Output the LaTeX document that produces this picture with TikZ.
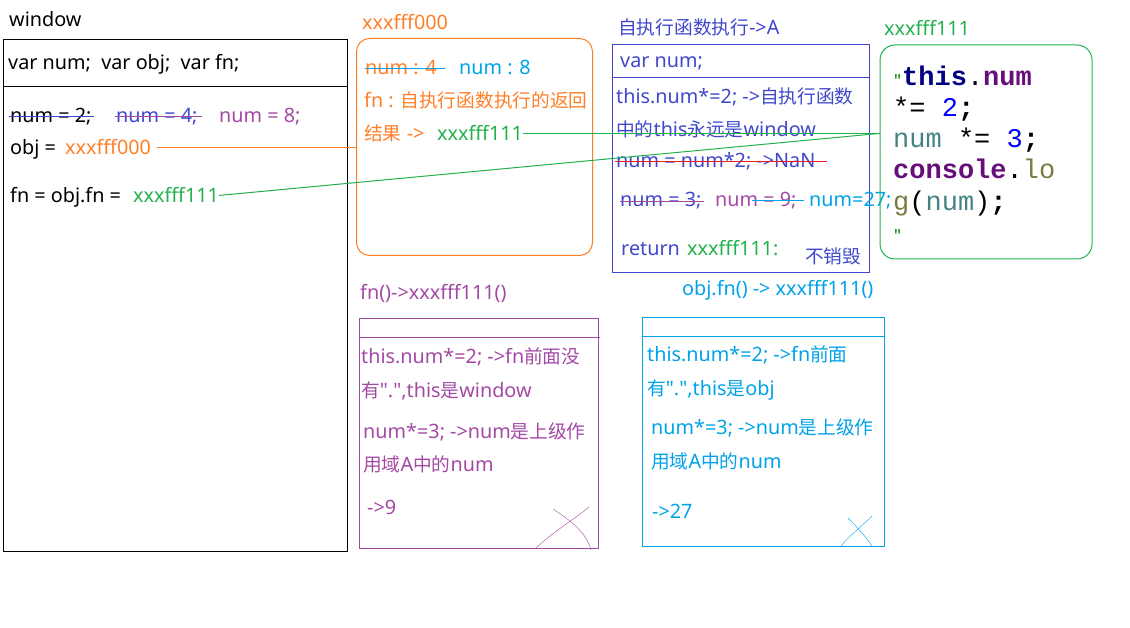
\documentclass[tikz,border=0pt]{standalone}
\usepackage{fontspec}
\setmainfont{Noto Sans}[Ligatures=TeXOff]
\newfontfamily\cjk{Noto Sans CJK SC}[Ligatures=TeXOff]
\setmonofont{Liberation Mono}
\usetikzlibrary{calc,positioning}

\definecolor{indigo}{HTML}{3F48CC}
\definecolor{ppurple}{HTML}{A349A4}
\definecolor{porange}{HTML}{FF7F27}
\definecolor{pgreen}{HTML}{22B14C}
\definecolor{pcyan}{HTML}{00A2E8}
\definecolor{pred}{HTML}{ED1C24}
\definecolor{kwthis}{HTML}{000080}
\definecolor{kwfield}{HTML}{660E7A}
\definecolor{kwlocal}{HTML}{458383}
\definecolor{kwcall}{HTML}{7A7A43}
\definecolor{kwnum}{HTML}{0000FF}
\definecolor{kwstr}{HTML}{008000}

\newcommand{\zh}[1]{{\cjk\fontsize{18.7}{22}\selectfont #1}}

\begin{document}
\begin{tikzpicture}[x=1pt,y=-1pt,
  txt/.style={anchor=base west,inner sep=0pt,font=\fontsize{19.8}{22}\selectfont},
  code/.style={anchor=base west,inner sep=0pt,font=\fontsize{27}{31}\ttfamily},
  frame/.style={draw,line width=1pt,anchor=north west,inner sep=0pt},
  strike/.style={line width=1pt}]

\useasboundingbox (0,0) rectangle (1130,628);

\def\qmark{{\fontsize{15}{15}\selectfont\textcolor{kwstr}{"}}}

% window
\node[txt] (wtitle) at (9,27) {window};
\node[frame,minimum width=344,minimum height=512] (winbox) at (3,39) {};
\draw[line width=1pt] (winbox.west |- 0,87) -- (winbox.east |- 0,87);
\node[txt] (wvar) at (8,70) {var num;~ var obj;~ var fn;};
\node[txt] (wtwo) at (10,123) {num = 2;};
\node[txt,indigo] (wfour) at (116,123) {num = 4;};
\node[txt,ppurple] (weight) at (219,123) {num = 8;};
\draw[strike,indigo] (9,117) -- (94,117);
\draw[strike,ppurple] (115,117) -- (202,117);
\node[txt] (wobj) at (10,155) {obj =};
\node[txt,porange] (wobjaddr) at (65,155) {xxxfff000};
\node[txt] (wfn) at (10,203) {fn = obj.fn =};
\node[txt,pgreen] (wfnaddr) at (133,203) {xxxfff111};

% xxxfff000
\node[txt,porange] (otitle) at (362,30) {xxxfff000};
\node[frame,draw=porange,rounded corners=13pt,minimum width=236,minimum height=217] (obox) at (356,38) {};
\node[txt,porange] (ofour) at (365,75) {num : 4};
\node[txt,pcyan] (oeight) at (459,75) {num : 8};
\draw[strike,pcyan] (365,68.5) -- (445,68.5);
\node[txt,porange] (ofn) at (364,108) {fn : \zh{自执行函数执行的返回}};
\node[txt,porange] (oret) at (364,141) {\zh{结果} ->};
\node[txt,pgreen] (oaddr) at (437,141) {xxxfff111};

% A
\node[txt,indigo] (atitle) at (618,35) {\zh{自执行函数执行}->A};
\node[frame,draw=indigo,minimum width=257,minimum height=228] (abox) at (611.5,44) {};
\draw[line width=1pt,indigo] (abox.west |- 0,78) -- (abox.east |- 0,78);
\begin{scope}[every node/.style={txt,indigo}]
\node (avar) at (620,68) {var num;};
\node (athis) at (616,104) {this.num*=2; ->\zh{自执行函数}};
\node (athistwo) at (616,137) {\zh{中的}this\zh{永远是}window};
\node (anan) at (616,168) {num = num*2; ->NaN};
\node (athree) at (620,207) {num = 3;};
\node (aret) at (621,256) {return};
\node (akeep) at (805,264) {\zh{不销毁}};
\end{scope}
\node[txt,ppurple] (anine) at (715,207) {num = 9;};
\node[txt,pcyan] (aseven) at (809,207) {num=27;};
\node[txt,pgreen] (aaddr) at (687,256) {xxxfff111:};
\draw[strike,pred] (615,161.5) -- (827,161.5);
\draw[strike,ppurple] (620,201.5) -- (704,201.5);
\draw[strike,pcyan] (752,200.5) -- (804,200.5);

% xxxfff111
\node[txt,pgreen] (gtitle) at (884,36) {xxxfff111};
\node[frame,draw=pgreen,rounded corners=15pt,minimum width=212,minimum height=214] (gbox) at (879.5,44.5) {};
\node[code] (gone) at (893,86) {\qmark\textbf{\textcolor{kwthis}{this}}.\textbf{\textcolor{kwfield}{num}}};
\node[code] (gtwo) at (893,117) {*= \textcolor{kwnum}{2}\textbf{;}};
\node[code] (gthree) at (893,148) {\textcolor{kwlocal}{num} *= \textcolor{kwnum}{3}\textbf{;}};
\node[code] (gfour) at (893,179) {\textbf{\textcolor{kwfield}{console}}.\textcolor{kwcall}{lo}};
\node[code] (gfive) at (893,211) {\textcolor{kwcall}{g}(\textcolor{kwlocal}{num})\textbf{;}};
\node[code] (gsix) at (893,241) {\qmark};

% references
\coordinate (gin) at (gbox.west |- oaddr.east);
\draw[porange,line width=1pt] ([xshift=6pt]wobjaddr.east) -- (obox.west |- wobjaddr.east);
\draw[pgreen,line width=1pt] (oaddr.east) -- (gin);
\draw[pgreen,line width=1pt] (wfnaddr.east) -- (gin);

% fn()
\node[txt,ppurple] (ptitle) at (360,300) {fn()->xxxfff111()};
\node[frame,draw=ppurple,minimum width=239,minimum height=230] (pbox) at (358.5,318) {};
\draw[line width=1pt,ppurple] (pbox.west |- 0,338) -- (600,338);
\begin{scope}[every node/.style={txt,ppurple}]
\node (pone) at (361,363) {this.num*=2; ->fn\zh{前面没}};
\node (ptwo) at (361,397) {\zh{有}".",this\zh{是}window};
\node (pthree) at (363,438) {num*=3; ->num\zh{是上级作}};
\node (pfour) at (363,471) {\zh{用域}A\zh{中的}num};
\node (pfive) at (367,514) {->9};
\end{scope}
\draw[ppurple] (535,549) .. controls (555,530) and (575,519) .. (589,507);
\draw[ppurple] (553,509) .. controls (568,519) and (586,531) .. (591,550);

% obj.fn()
\node[txt,pcyan] (ctitle) at (682,296) {obj.fn() -> xxxfff111()};
\node[frame,draw=pcyan,minimum width=242,minimum height=229] (cbox) at (641.5,317) {};
\draw[line width=1pt,pcyan] (cbox.west |- 0,337) -- (cbox.east |- 0,337);
\begin{scope}[every node/.style={txt,pcyan}]
\node (cone) at (647,362) {this.num*=2; ->fn\zh{前面}};
\node (ctwo) at (647,395) {\zh{有}".",this\zh{是}obj};
\node (cthree) at (651,434) {num*=3; ->num\zh{是上级作}};
\node (cfour) at (651,468) {\zh{用域}A\zh{中的}num};
\node (cfive) at (652,518) {->27};
\end{scope}
\draw[pcyan] (840,547) .. controls (850,535) and (862,526) .. (872,516);
\draw[pcyan] (848,518) .. controls (858,528) and (866,537) .. (872,546);

\end{tikzpicture}
\end{document}
